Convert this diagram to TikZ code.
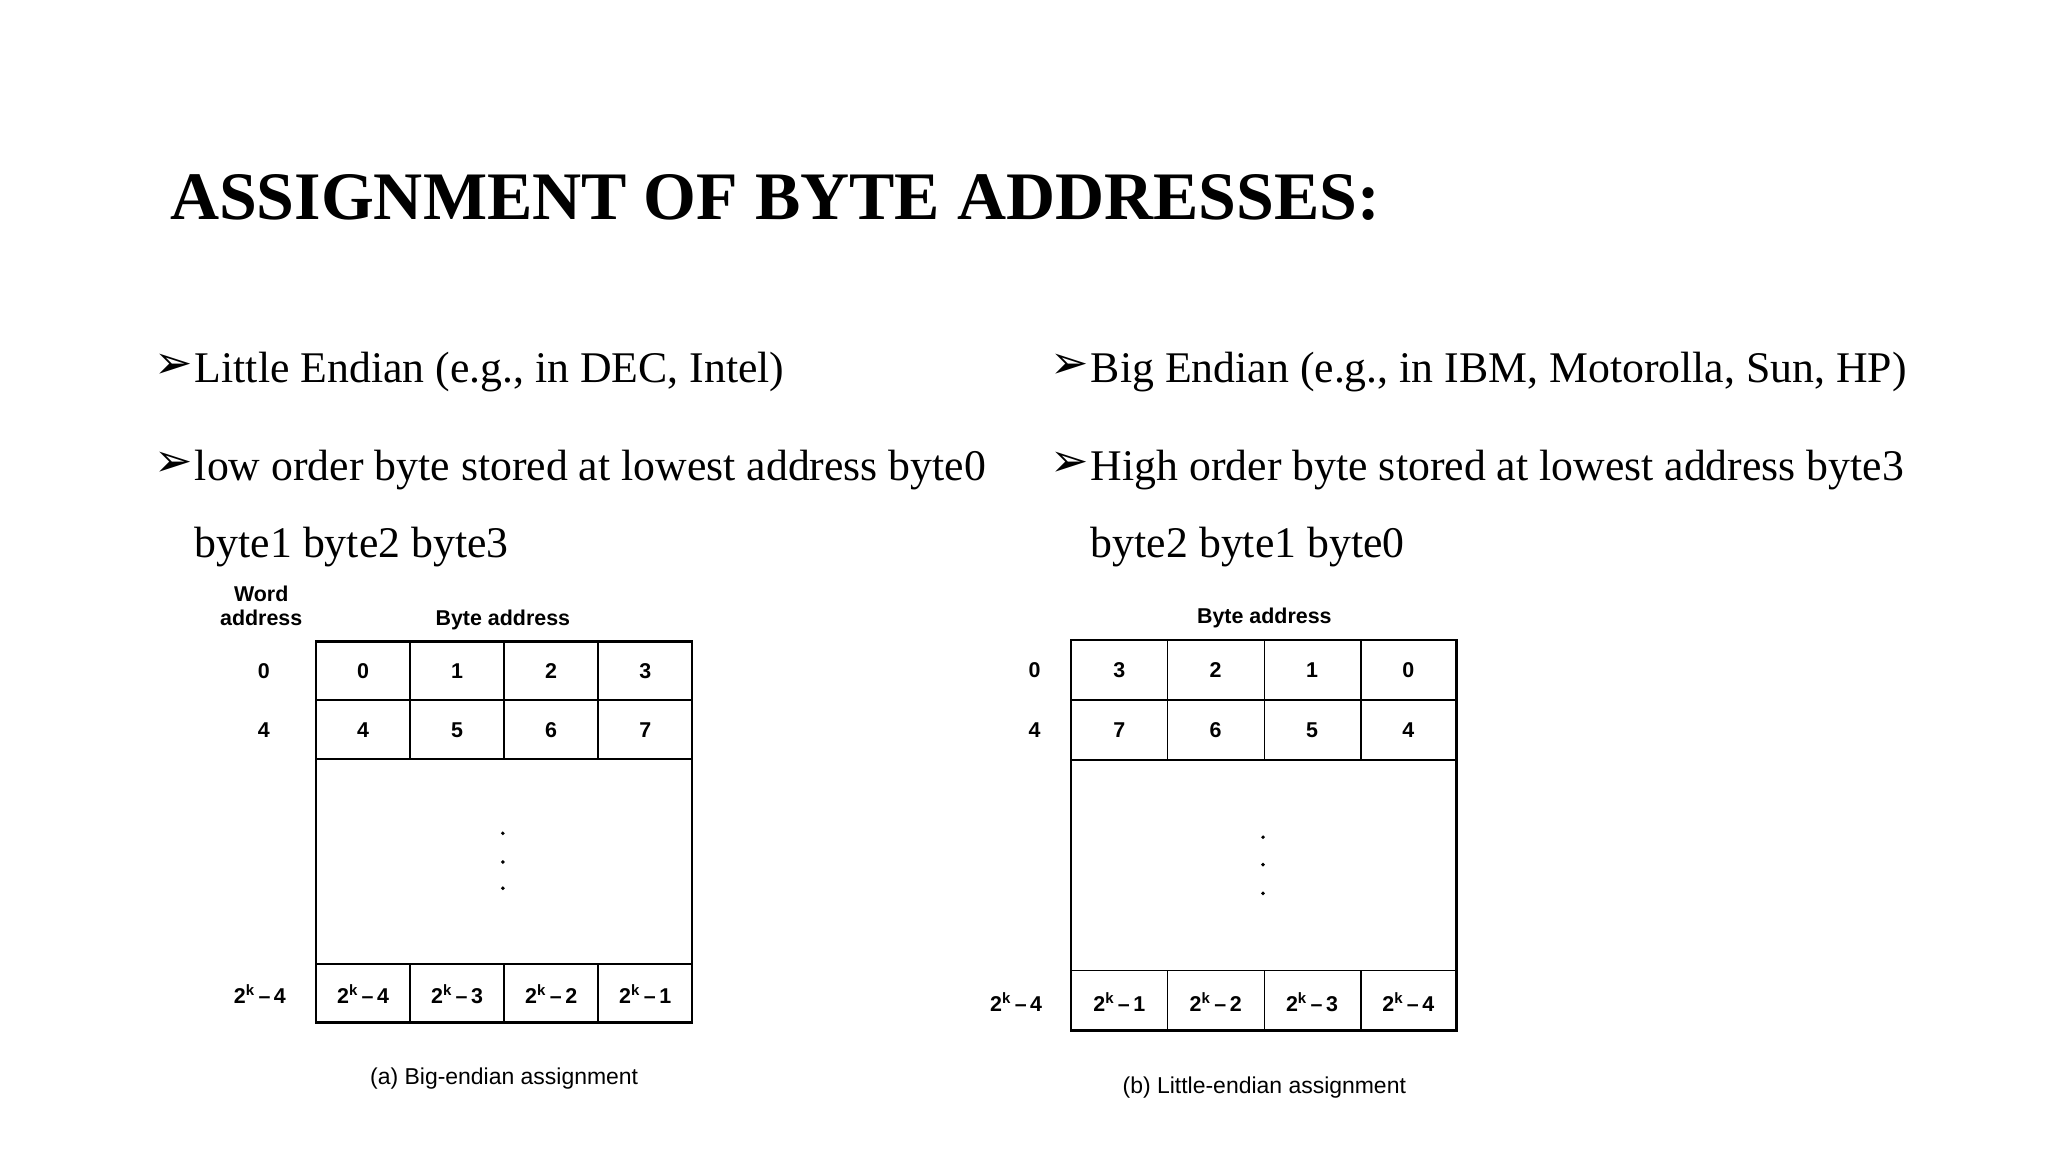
\documentclass[tikz,border=0pt]{standalone}
\usepackage{fontspec}
\setmainfont{Liberation Serif}
\newfontfamily\dejavu{DejaVu Sans}
\newfontfamily\lsans{Liberation Sans}
\begin{document}
\begin{tikzpicture}[x=0.03cm,y=-0.03cm,
  title/.style={anchor=base west,inner sep=0,font=\fontsize{44.4}{54}\selectfont\bfseries},
  body/.style={anchor=base west,inner sep=0,font=\fontsize{28.6}{34}\selectfont},
  bul/.style={anchor=base west,inner sep=0,font=\fontsize{30}{34}\selectfont\dejavu},
  cell/.style={font=\fontsize{14}{16}\selectfont\lsans\bfseries,inner sep=0},
  captxt/.style={font=\fontsize{15}{17}\selectfont\lsans,inner sep=0},
  outer/.style={line width=1.6pt},
  inner/.style={line width=1pt}]
\useasboundingbox (0,0) rectangle (1568,882);
\node[title] (t) at (130,168) {ASSIGNMENT OF BYTE ADDRESSES:};
% bullets left
\node[bul] (b1) at (118,290) {➢};
\node[body] (l1) at (149,293) {Little Endian (e.g., in DEC, Intel)};
\node[bul] (b2) at (118,365) {➢};
\node[body] (l2) at (149,368) {low order byte stored at lowest address byte0};
\node[body] (l3) at (149,427) {byte1 byte2 byte3};
% bullets right
\node[bul] (b3) at (804,290) {➢};
\node[body] (r1) at (835,293) {Big Endian (e.g., in IBM, Motorolla, Sun, HP)};
\node[bul] (b4) at (804,365) {➢};
\node[body] (r2) at (835,368) {High order byte stored at lowest address byte3};
\node[body] (r3) at (835,427) {byte2 byte1 byte0};
% left table
\draw[outer] (242,491) rectangle (530,783);
\draw[inner] (242,536) -- (530,536) (242,581) -- (530,581) (242,738) -- (530,738);
\foreach \x in {314,386,458}{\draw[inner] (\x,491) -- (\x,581) (\x,738) -- (\x,783);}
\node[cell] (wa1) at (200,455) {Word};
\node[cell] (wa2) at (200,473) {address};
\node[cell] (ba1) at (385,475) {Byte address};
\node[cell] at (202,514) {0};
\node[cell] at (202,559) {4};
\node[cell] at (199,761) {2\textsuperscript{k}\,–\,4};
\foreach \v [count=\i] in {0,1,2,3}{\node[cell] at (206+72*\i,514) {\v};}
\foreach \v [count=\i] in {4,5,6,7}{\node[cell] at (206+72*\i,559) {\v};}
\foreach \v [count=\i] in {4,3,2,1}{\node[cell] at (206+72*\i,761) {2\textsuperscript{k}\,–\,\v};}
\foreach \y in {638,660,680}{\fill (385,\y) circle (1.5);}
\node[captxt] (ca) at (386,826) {(a) Big-endian assignment};
% right table
\draw[outer] (820,490) rectangle (1115,789);
\draw[inner] (820,536) -- (1115,536) (820,582) -- (1115,582) (820,743) -- (1115,743);
\foreach \x in {894,968,1042}{\draw[inner] (\x,490) -- (\x,582) (\x,743) -- (\x,789);}
\node[cell] (ba2) at (968,473) {Byte address};
\node[cell] at (792,513) {0};
\node[cell] at (792,559) {4};
\node[cell] at (778,767) {2\textsuperscript{k}\,–\,4};
\foreach \v [count=\i] in {3,2,1,0}{\node[cell] at (783.25+73.75*\i,513) {\v};}
\foreach \v [count=\i] in {7,6,5,4}{\node[cell] at (783.25+73.75*\i,559) {\v};}
\foreach \v [count=\i] in {1,2,3,4}{\node[cell] at (783.25+73.75*\i,767) {2\textsuperscript{k}\,–\,\v};}
\foreach \y in {641,662,684}{\fill (967,\y) circle (1.5);}
\node[captxt] (cb) at (968,833) {(b) Little-endian assignment};
\end{tikzpicture}
\end{document}
